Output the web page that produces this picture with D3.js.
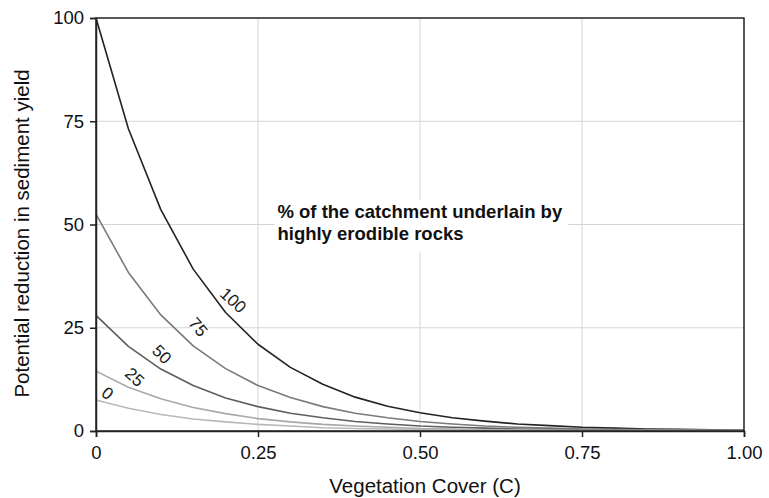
<!DOCTYPE html>
<html>
<head>
<meta charset="utf-8">
<script src="https://cdn.jsdelivr.net/npm/d3@7"></script>
<style>
  body { margin: 0; background: #fff; }
  text { font-family: "Liberation Sans", Arial, sans-serif; }
</style>
</head>
<body>
<script>
// vegetation cover (C), sampled every 0.05
var cover = [0, 0.05, 0.10, 0.15, 0.20, 0.25, 0.30, 0.35, 0.40, 0.45, 0.50,
             0.55, 0.60, 0.65, 0.70, 0.75, 0.80, 0.85, 0.90, 0.95, 1.00];

// % of catchment underlain by highly erodible rocks
var seriesNames = ["100", "75", "50", "25", "0"];

var s100 = [100, 73.2, 53.6, 39.2, 28.7, 21.0, 15.4, 11.3, 8.2, 6.0, 4.4,
            3.2, 2.4, 1.7, 1.3, 0.9, 0.7, 0.5, 0.4, 0.3, 0.2];
var s75  = [52.5, 38.4, 28.1, 20.6, 15.1, 11.0, 8.1, 5.9, 4.3, 3.2, 2.3,
            1.7, 1.2, 0.9, 0.7, 0.5, 0.4, 0.3, 0.2, 0.1, 0.1];
var s50  = [28.0, 20.5, 15.0, 11.0, 8.0, 5.9, 4.3, 3.2, 2.3, 1.7, 1.2,
            0.9, 0.7, 0.5, 0.4, 0.3, 0.2, 0.1, 0.1, 0.1, 0.1];
var s25  = [14.5, 10.6, 7.8, 5.7, 4.2, 3.0, 2.2, 1.6, 1.2, 0.9, 0.6,
            0.5, 0.3, 0.3, 0.2, 0.1, 0.1, 0.1, 0.1, 0.1, 0.1];
var s0   = [7.5, 5.5, 4.0, 2.9, 2.2, 1.6, 1.2, 0.8, 0.6, 0.5, 0.3,
            0.2, 0.2, 0.1, 0.1, 0.1, 0.1, 0.1, 0.1, 0.1, 0.1];

var xTicks = [0, 0.25, 0.5, 0.75, 1];
var xTickLabels = ["0", "0.25", "0.50", "0.75", "1.00"];
var yTicks = [0, 25, 50, 75, 100];

var width = 769;
var height = 498;
var margin = { top: 18, right: 25, bottom: 67, left: 96 };
var w = width - margin.left - margin.right;
var h = height - margin.top - margin.bottom;

var series = [s100, s75, s50, s25, s0];
var colors = ["#222", "#7a7a7a", "#5e5e5e", "#a8a8a8", "#b8b8b8"];
// where each curve label sits (data units) and its rotation
var labelAt = [
    { c: 0.212, v: 31.7, rot: 42 },
    { c: 0.158, v: 25.2, rot: 50 },
    { c: 0.102, v: 18.6, rot: 45 },
    { c: 0.060, v: 13.1, rot: 42 },
    { c: 0.018, v: 9.2, rot: 38 }
];

var svg = d3.select("body")
    .append("svg")
    .attr("width", width)
    .attr("height", height);

var g = svg.append("g")
    .attr("transform", "translate(" + margin.left + "," + margin.top + ")");

var x = d3.scaleLinear().domain([0, 1]).range([0, w]);
var y = d3.scaleLinear().domain([0, 100]).range([h, 0]);

// grid
g.append("g")
    .selectAll("line")
    .data(xTicks.slice(1, -1))
    .enter().append("line")
    .attr("x1", d => x(d)).attr("x2", d => x(d))
    .attr("y1", 0).attr("y2", h)
    .attr("stroke", "#d4d4d4").attr("stroke-width", 1);

g.append("g")
    .selectAll("line")
    .data(yTicks.slice(1, -1))
    .enter().append("line")
    .attr("x1", 0).attr("x2", w)
    .attr("y1", d => y(d)).attr("y2", d => y(d))
    .attr("stroke", "#d4d4d4").attr("stroke-width", 1);

// annotation box hides the grid behind it
var note = g.append("g").attr("transform", "translate(" + (x(0.28) ) + "," + (y(51.5)) + ")");
note.append("rect")
    .attr("x", -3).attr("y", -18)
    .attr("width", 294).attr("height", 52)
    .attr("fill", "#fff");
note.append("text")
    .attr("x", 0).attr("y", 0)
    .attr("font-size", 18.5).attr("font-weight", "bold").attr("fill", "#111")
    .text("% of the catchment underlain by");
note.append("text")
    .attr("x", 0).attr("y", 22)
    .attr("font-size", 18.5).attr("font-weight", "bold").attr("fill", "#111")
    .text("highly erodible rocks");

// curves
var line = d3.line()
    .x((d, i) => x(cover[i]))
    .y(d => y(d));

g.append("g")
    .selectAll("path")
    .data(series)
    .enter().append("path")
    .attr("d", line)
    .attr("fill", "none")
    .attr("stroke", (d, i) => colors[i])
    .attr("stroke-width", 1.6)
    .attr("stroke-linejoin", "round");

// curve labels
var lab = g.append("g")
    .selectAll("g")
    .data(seriesNames)
    .enter().append("g")
    .attr("transform", (d, i) => "translate(" + x(labelAt[i].c) + "," + y(labelAt[i].v) + ") rotate(" + labelAt[i].rot + ")");

lab.append("rect")
    .attr("x", d => -d.length * 4.9 - 2)
    .attr("y", -7)
    .attr("width", d => d.length * 9.8 + 4)
    .attr("height", 14)
    .attr("fill", "#fff");

lab.append("text")
    .attr("text-anchor", "middle")
    .attr("dy", "0.36em")
    .attr("font-size", 17)
    .attr("fill", "#1a1a1a")
    .text(d => d);

// frame
g.append("rect")
    .attr("width", w).attr("height", h)
    .attr("fill", "none")
    .attr("stroke", "#222").attr("stroke-width", 1.5);

// axes
var xAxis = g.append("g")
    .attr("transform", "translate(0," + h + ")")
    .call(d3.axisBottom(x).tickValues(xTicks)
        .tickFormat((d, i) => xTickLabels[i]).tickSize(6).tickPadding(9));

var yAxis = g.append("g")
    .call(d3.axisLeft(y).tickValues(yTicks).tickSize(6).tickPadding(6));

[xAxis, yAxis].forEach(function (a) {
    a.select(".domain").attr("stroke", "#222").attr("stroke-width", 1.5);
    a.selectAll(".tick line").attr("stroke", "#222").attr("stroke-width", 1.5);
    a.selectAll(".tick text")
        .attr("font-family", "'Liberation Sans', Arial, sans-serif")
        .attr("font-size", 18.5).attr("fill", "#111");
});

// axis titles
svg.append("text")
    .attr("x", margin.left + w / 2 + 5)
    .attr("y", 493)
    .attr("text-anchor", "middle")
    .attr("font-size", 20.5).attr("fill", "#111")
    .text("Vegetation Cover (C)");

svg.append("text")
    .attr("transform", "translate(29," + (margin.top + h / 2 + 9) + ") rotate(-90)")
    .attr("text-anchor", "middle")
    .attr("font-size", 20.5).attr("fill", "#111")
    .text("Potential reduction in sediment yield");
</script>
</body>
</html>
